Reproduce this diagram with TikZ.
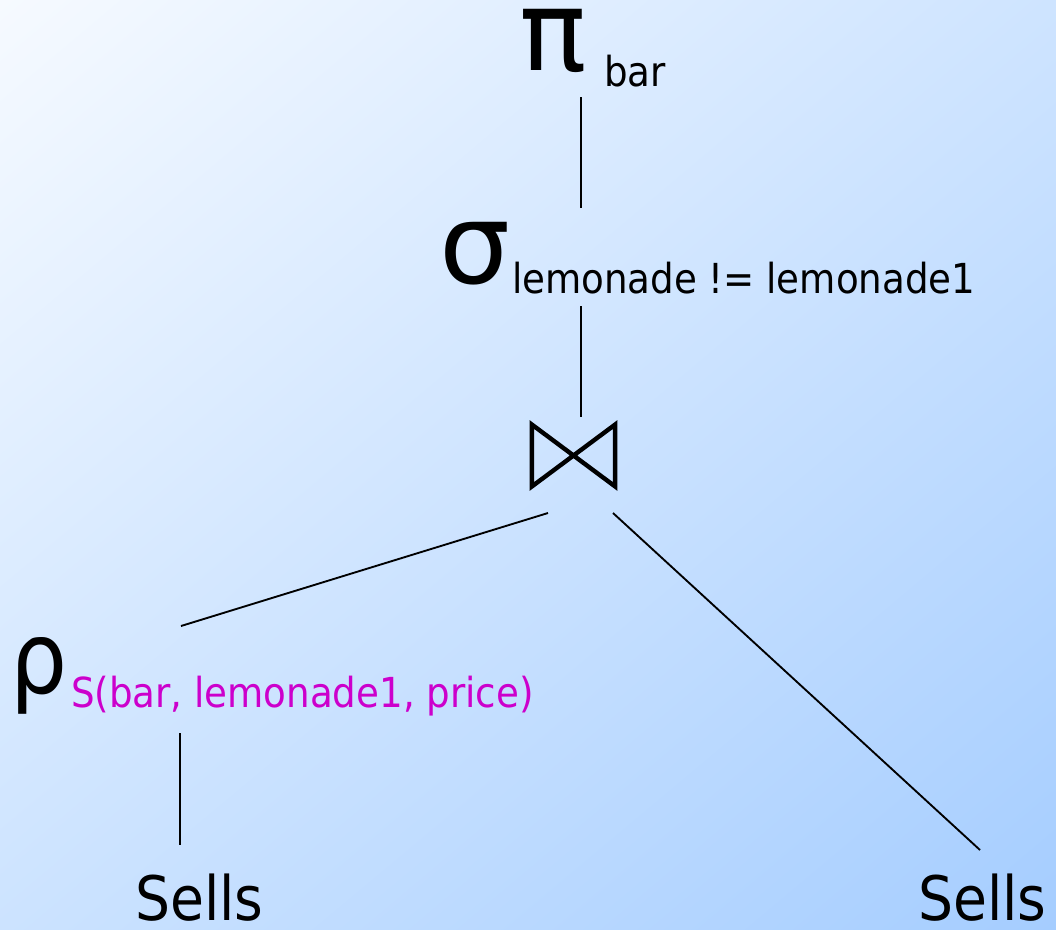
\documentclass[tikz,border=0pt]{standalone}
\usepackage{fontspec}
\usetikzlibrary{shadings}
\setmainfont{DejaVu Sans Condensed}
\newfontfamily\widegreek{DejaVu Sans}
\begin{document}
\begin{tikzpicture}[x=0.75pt,y=-0.75pt,
  lbl/.style={inner sep=0pt,outer sep=0pt,anchor=base west},
  greek/.style={lbl,font=\fontsize{75}{80}\selectfont},
  biggreek/.style={lbl,font=\widegreek\fontsize{84}{90}\selectfont},
  sub/.style={lbl,font=\fontsize{31}{36}\selectfont},
  rel/.style={lbl,font=\fontsize{46}{50}\selectfont},
  edge/.style={line width=1.4pt,black}]
\definecolor{bgtl}{RGB}{246,250,255}
\definecolor{bgtr}{RGB}{206,228,255}
\definecolor{bgbl}{RGB}{204,227,255}
\definecolor{bgbr}{RGB}{165,205,255}
\definecolor{mag}{RGB}{204,0,204}
\shade[upper left=bgtl,upper right=bgtr,lower left=bgbl,lower right=bgbr] (0,0) rectangle (1056,929);
\useasboundingbox (0,0) rectangle (1056,929);
% projection
\node[biggreek] (pi) at (519,70) {π};
\node[sub] (pisub) at (604,86) {bar};
% selection
\node[biggreek] (sigma) at (439,283) {σ};
\node[sub] (sigsub) at (512,293) {lemonade != lemonade1};
% join
\node[inner sep=0pt,minimum width=62pt,minimum height=46pt] (join) at (573.5,455.5) {};
\draw[line width=3.3pt,line join=miter] (join.north west) -- (join.south east) -- (join.north east) -- (join.south west) -- cycle;
% rename
\node[greek] (rho) at (11,693) {ρ};
\node[sub,text=mag] (rhosub) at (71,707) {S(bar, lemonade1, price)};
% relations
\node[rel] (sells1) at (135,920) {Sells};
\node[rel] (sells2) at (918,920) {Sells};
% connector end points
\coordinate (pib) at (581,97);
\coordinate (sigt) at (581,208);
\coordinate (sigb) at (581,306);
\coordinate (joint) at (581,417);
\coordinate (joinbl) at (548,513);
\coordinate (joinbr) at (613,513);
\coordinate (rhot) at (181,626);
\coordinate (rhob) at (180,733);
\coordinate (s1t) at (180,845);
\coordinate (s2t) at (980,850);
\draw[edge] (pib) -- (sigt);
\draw[edge] (sigb) -- (joint);
\draw[edge] (joinbl) -- (rhot);
\draw[edge] (joinbr) -- (s2t);
\draw[edge] (rhob) -- (s1t);
\end{tikzpicture}
\end{document}
